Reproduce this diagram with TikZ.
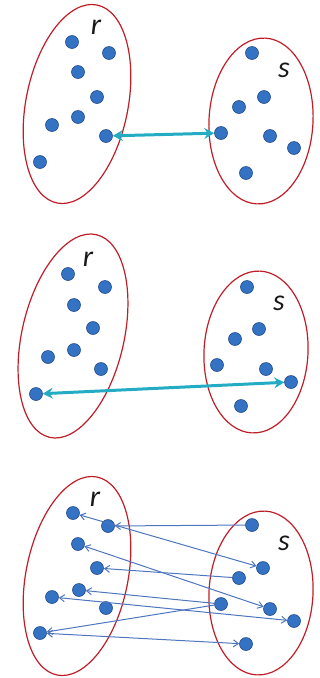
\documentclass[tikz,border=0pt]{standalone}
\usepackage{fontspec}
\setmainfont{Carlito}
\usetikzlibrary{arrows.meta}
\definecolor{dotfill}{RGB}{52,114,196}
\definecolor{dotline}{RGB}{38,78,140}
\definecolor{setred}{RGB}{190,30,40}
\definecolor{teal2}{RGB}{35,172,196}
\definecolor{thinblue}{RGB}{78,118,190}
\tikzset{
  dot/.style={circle,fill=dotfill,draw=dotline,line width=0.6pt,minimum size=13pt,inner sep=0pt},
  setline/.style={draw=setred,line width=1.2pt},
  lbl/.style={font=\fontsize{30}{30}\selectfont\itshape,text=black!90,inner sep=0pt},
  bigarrow/.style={teal2,line width=3pt,{Stealth[length=10pt,width=11pt,inset=3.5pt]}-{Stealth[length=10pt,width=11pt,inset=3.5pt]}},
  thinarrow/.style={thinblue,line width=1pt},
  tip/.style={-{Straight Barb[length=5pt,width=7pt]}},
  tips/.style={{Straight Barb[length=5pt,width=7pt]}-{Straight Barb[length=5pt,width=7pt]}}
}
\begin{document}
\begin{tikzpicture}[x=1pt,y=-1pt]
\useasboundingbox (0,0) rectangle (320,678);
% ---------- Panel 1 ----------
\draw[setline] (77,104) ellipse [x radius=51pt, y radius=101pt, rotate=-11.4];
\draw[setline] (261,121) ellipse [x radius=52pt, y radius=83pt, rotate=-3];
\node[lbl] (ar) at (96,27) {r};
\node[lbl] (as) at (284,70) {s};
\node[dot] (ar1) at (72,42) {};
\node[dot] (ar2) at (109,53) {};
\node[dot] (ar3) at (78,72) {};
\node[dot] (ar4) at (97,97) {};
\node[dot] (ar5) at (78,117) {};
\node[dot] (ar6) at (52,125) {};
\node[dot] (ar7) at (106,136) {};
\node[dot] (ar8) at (40,162) {};
\node[dot] (as1) at (252,53) {};
\node[dot] (as2) at (264,97) {};
\node[dot] (as3) at (239,107) {};
\node[dot] (as4) at (221,133) {};
\node[dot] (as5) at (270,136) {};
\node[dot] (as6) at (294,148) {};
\node[dot] (as7) at (246,173) {};
\draw[bigarrow] (ar7) -- (as4);
% ---------- Panel 2 ----------
\draw[setline] (73,336) ellipse [x radius=51pt, y radius=104pt, rotate=-13];
\draw[setline] (256,352) ellipse [x radius=52pt, y radius=81pt, rotate=-3];
\node[lbl] (br) at (88,259) {r};
\node[lbl] (bs) at (279,303) {s};
\node[dot] (br1) at (68,274) {};
\node[dot] (br2) at (105,287) {};
\node[dot] (br3) at (74,305) {};
\node[dot] (br4) at (93,328) {};
\node[dot] (br5) at (74,350) {};
\node[dot] (br6) at (48,357) {};
\node[dot] (br7) at (101,369) {};
\node[dot] (br8) at (36,394) {};
\node[dot] (bs1) at (247,287) {};
\node[dot] (bs2) at (259,329) {};
\node[dot] (bs3) at (235,339) {};
\node[dot] (bs4) at (217,365) {};
\node[dot] (bs5) at (266,369) {};
\node[dot] (bs6) at (291,382) {};
\node[dot] (bs7) at (241,406) {};
\draw[bigarrow] (br8) -- (bs6);
% ---------- Panel 3 ----------
\draw[setline] (77,576) ellipse [x radius=51pt, y radius=101pt, rotate=-11.4];
\draw[setline] (261,593) ellipse [x radius=52pt, y radius=82pt, rotate=-3];
\node[lbl] (cr) at (95,499) {r};
\node[lbl] (cs) at (284,543) {s};
\node[dot] (cr1) at (73,513) {};
\node[dot] (cr2) at (108,526) {};
\node[dot] (cr3) at (78,544) {};
\node[dot] (cr4) at (97,568) {};
\node[dot] (cr5) at (79,590) {};
\node[dot] (cr6) at (52,597) {};
\node[dot] (cr7) at (106,608) {};
\node[dot] (cr8) at (40,633) {};
\node[dot] (cs1) at (252,525) {};
\node[dot] (cs2) at (263,568) {};
\node[dot] (cs3) at (239,578) {};
\node[dot] (cs4) at (221,604) {};
\node[dot] (cs5) at (270,609) {};
\node[dot] (cs6) at (294,621) {};
\node[dot] (cs7) at (246,644) {};
\draw[thinarrow,tip] (cs1) -- (cr2);
\draw[thinarrow,tips] (cr1) -- (cs2);
\draw[thinarrow,tip] (cs3) -- (cr4);
\draw[thinarrow,tips] (cr3) -- (cs5);
\draw[thinarrow,tip] (cs4) -- (cr5);
\draw[thinarrow,tips] (cr6) -- (cs6);
\draw[thinarrow,tip] (cs4) -- (cr8);
\draw[thinarrow,tips] (cr8) -- (cs7);
\end{tikzpicture}
\end{document}
